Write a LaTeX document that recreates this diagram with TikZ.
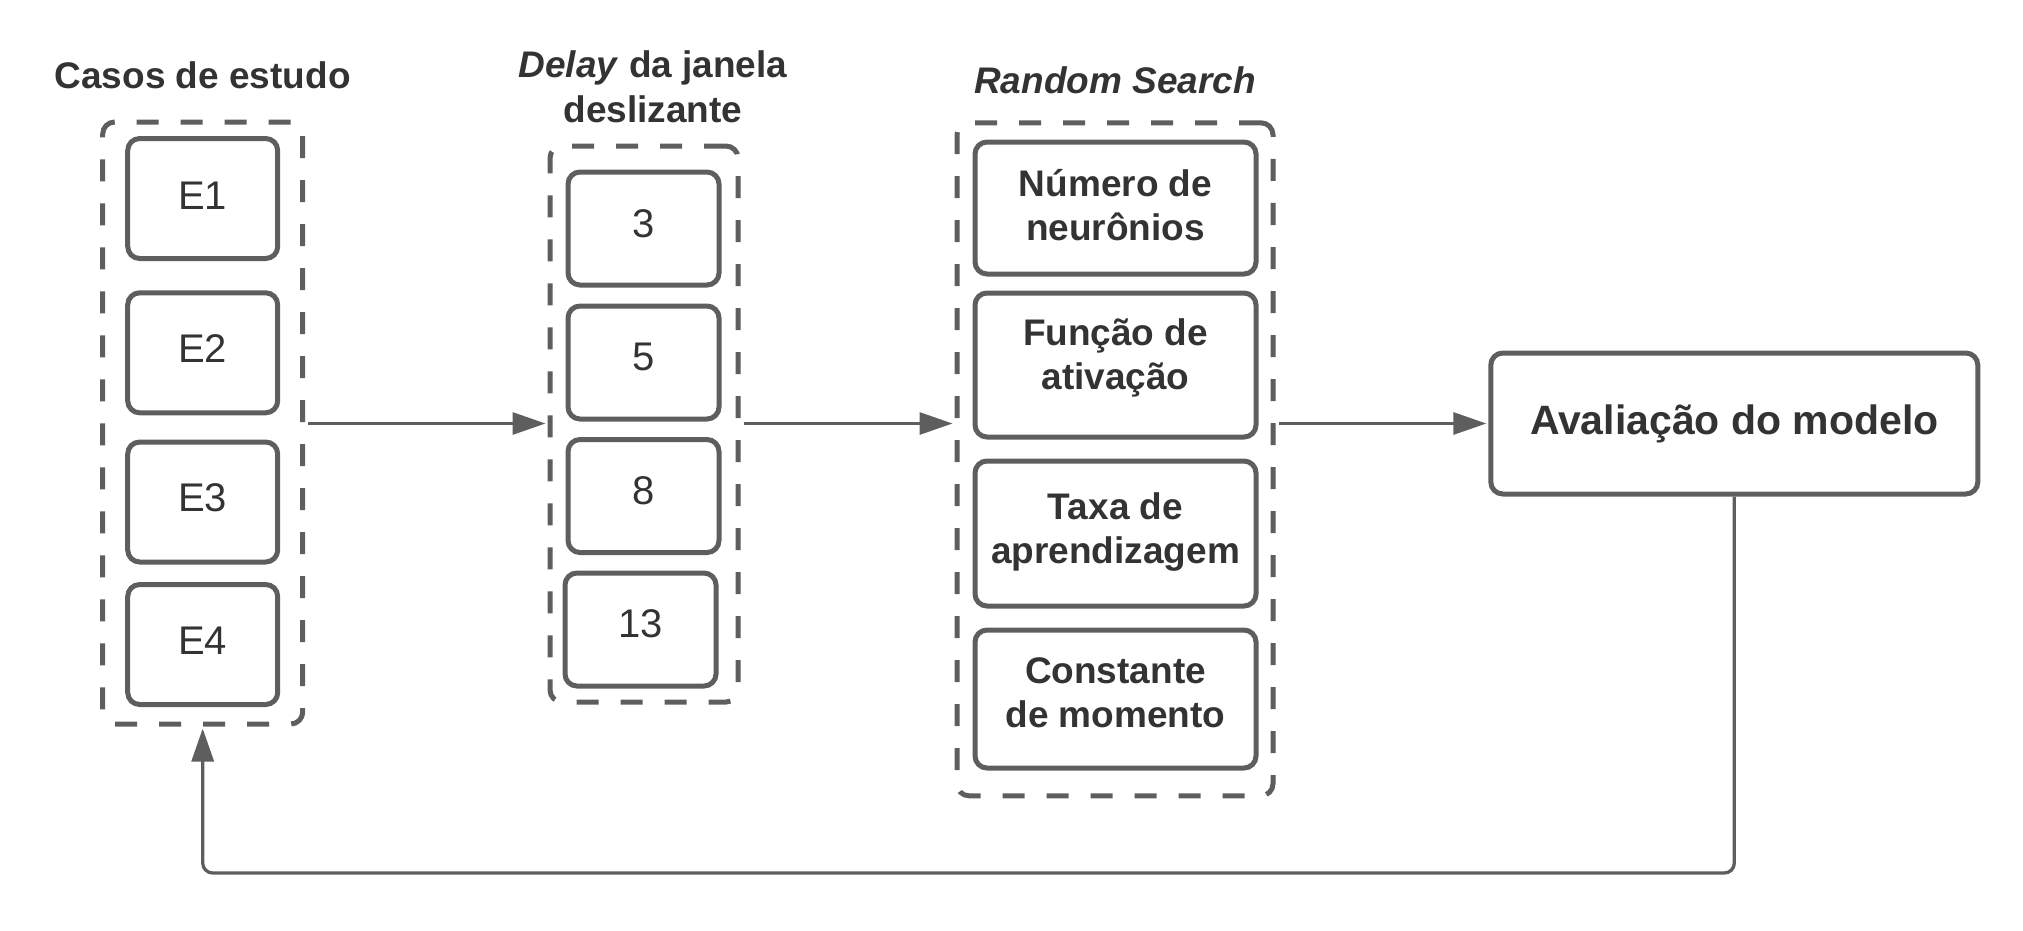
\documentclass[tikz,border=0pt]{standalone}
\usepackage{fontspec}
\setmainfont{Liberation Sans}
\usetikzlibrary{arrows.meta}
\definecolor{lc}{HTML}{5E5E5E}
\definecolor{tc}{HTML}{333333}
\newcommand{\liftup}[2]{\raisebox{#1}[\height][\depth]{\begin{tabular}{@{}c@{}}#2\end{tabular}}}
\tikzset{
  sbox/.style={draw=lc, line width=5pt, rounded corners=12pt, text=tc, align=center, inner sep=0pt},
  cont/.style={draw=lc, line width=5pt, rounded corners=12pt, dash pattern=on 22pt off 22pt, inner sep=0pt},
  numtxt/.style={font=\fontsize{40}{48}\selectfont},
  boldtxt/.style={font=\fontsize{37}{44}\selectfont\bfseries},
  ttl/.style={text=tc, align=center, font=\fontsize{37}{45}\selectfont\bfseries},
  arr/.style={draw=lc, line width=3pt, -{Triangle[length=33pt,width=22pt]}},
}
\begin{document}
\begin{tikzpicture}[x=1pt,y=-1pt]
\useasboundingbox (0,0) rectangle (2023,930);
% containers
\node[cont, minimum width=200, minimum height=602] (c1) at (202.7,423) {};
\node[cont, minimum width=188, minimum height=556] (c2) at (644,424) {};
\node[cont, minimum width=316, minimum height=673] (c3) at (1115,459.3) {};
% titles
\node[ttl] (t1) at (202.7,75) {Casos de estudo};
\node[ttl] (t2) at (653,87) {\textit{Delay} da janela\\deslizante};
\node[ttl] (t3) at (1115,80) {\textit{Random Search}};
% case boxes
\node[sbox, numtxt, minimum width=150, minimum height=120] (e1) at (202.7,198.5) {\liftup{-1pt}{E1}};
\node[sbox, numtxt, minimum width=150, minimum height=120] (e2) at (202.7,352.8) {\liftup{0pt}{E2}};
\node[sbox, numtxt, minimum width=150, minimum height=120] (e3) at (202.7,502) {\liftup{0pt}{E3}};
\node[sbox, numtxt, minimum width=150, minimum height=120] (e4) at (202.7,644.5) {\liftup{0pt}{E4}};
% delay boxes
\node[sbox, numtxt, minimum width=151, minimum height=113] (d3) at (643.5,228.5) {\liftup{1pt}{3}};
\node[sbox, numtxt, minimum width=151, minimum height=113] (d5) at (643.5,362.5) {\liftup{2pt}{5}};
\node[sbox, numtxt, minimum width=151, minimum height=113] (d8) at (643.5,496) {\liftup{1pt}{8}};
\node[sbox, numtxt, minimum width=151, minimum height=113] (d13) at (640.5,629.5) {\liftup{2pt}{13}};
% random search boxes
\node[sbox, boldtxt, minimum width=281, minimum height=132] (r1) at (1115.5,208) {\liftup{-2pt}{Número de\\neurônios}};
\node[sbox, boldtxt, minimum width=281, minimum height=144] (r2) at (1115.5,365) {\liftup{6pt}{Função de\\ativação}};
\node[sbox, boldtxt, minimum width=281, minimum height=145] (r3) at (1115.5,533.5) {\liftup{1pt}{Taxa de\\aprendizagem}};
\node[sbox, boldtxt, minimum width=281, minimum height=138] (r4) at (1115.5,699) {\liftup{2pt}{Constante\\de momento}};
% evaluation
\node[sbox, font=\fontsize{41}{48}\selectfont\bfseries, minimum width=487, minimum height=141] (ev) at (1734.3,423.5) {Avaliação do modelo};
% arrows
\draw[arr, shorten <=3pt, shorten >=2pt] (c1.east |- ev.west) -- (c2.west |- ev.west);
\draw[arr, shorten <=3pt, shorten >=2pt] (c2.east |- ev.west) -- (c3.west |- ev.west);
\draw[arr, shorten <=3pt, shorten >=2pt] (c3.east |- ev.west) -- (ev.west);
\coordinate (fb) at (202.7,873);
\draw[arr, line width=3.3pt, rounded corners=10pt, shorten >=2pt] (ev.south) |- (fb) -- (c1.south);
\end{tikzpicture}
\end{document}
